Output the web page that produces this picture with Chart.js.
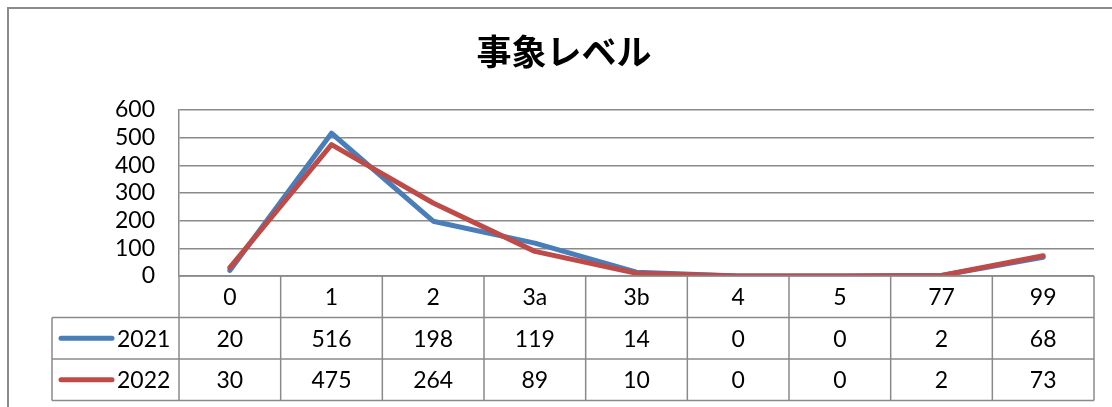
<!DOCTYPE html>
<html>
<head>
<meta charset="utf-8">
<script src="https://cdn.jsdelivr.net/npm/chart.js@4"></script>
<style>
  html, body { margin: 0; padding: 0; background: #ffffff; }
  #wrap { width: 1112px; height: 407px; position: relative; }
</style>
</head>
<body>
<div id="wrap"><canvas id="c" width="1112" height="407"></canvas></div>
<script>
const titleText = '事象レベル';
const categories = ['0', '1', '2', '3a', '3b', '4', '5', '77', '99'];
const seriesNames = ['2021', '2022'];
const values2021 = [20, 516, 198, 119, 14, 0, 0, 2, 68];
const values2022 = [30, 475, 264, 89, 10, 0, 0, 2, 73];
const yTicks = [0, 100, 200, 300, 400, 500, 600];

const colors = ['#4A7EBB', '#BE4B48'];
const gridColor = '#8a8a8a';
const fontFamily = 'Lato, "Liberation Sans", sans-serif';
const fontSize = 23;
const textFont = fontSize + 'px ' + fontFamily;

// Outer frame, title and the data table under the plot
const tablePlugin = {
  id: 'dataTable',
  afterDraw(chart) {
    const ctx = chart.ctx;
    const area = chart.chartArea;
    const x = chart.scales.x;
    const n = categories.length;
    const colW = (area.right - area.left) / n;
    const rowH = 41.5;
    const tableLeft = 52;
    const rows = [area.bottom, area.bottom + rowH, area.bottom + 2 * rowH, area.bottom + 3 * rowH];

    ctx.save();
    // frame
    ctx.strokeStyle = gridColor;
    ctx.lineWidth = 2;
    ctx.beginPath();
    ctx.moveTo(8, 420);
    ctx.lineTo(8, 8);
    ctx.lineTo(1120, 8);
    ctx.stroke();

    // title
    ctx.fillStyle = '#000';
    ctx.font = 'bold 35px "Noto Sans CJK JP", sans-serif';
    ctx.textAlign = 'center';
    ctx.textBaseline = 'middle';
    ctx.fillText(titleText, 564, 52);

    // table lines
    ctx.strokeStyle = gridColor;
    ctx.lineWidth = 1.5;
    ctx.beginPath();
    for (let r = 1; r < rows.length; r++) {
      ctx.moveTo(tableLeft, rows[r]);
      ctx.lineTo(area.right, rows[r]);
    }
    ctx.moveTo(area.left, rows[0]);
    ctx.lineTo(area.right, rows[0]);
    ctx.moveTo(tableLeft, rows[1]);
    ctx.lineTo(tableLeft, rows[3]);
    for (let i = 0; i <= n; i++) {
      const cx = area.left + i * colW;
      ctx.moveTo(cx, rows[0]);
      ctx.lineTo(cx, rows[3]);
    }
    ctx.stroke();

    // texts
    ctx.fillStyle = '#000';
    ctx.font = textFont;
    ctx.textAlign = 'center';
    ctx.textBaseline = 'middle';
    const series = [values2021, values2022];
    categories.forEach((c, i) => {
      const cx = x.getPixelForValue(i);
      ctx.fillText(c, cx, (rows[0] + rows[1]) / 2 + 1);
      series.forEach((s, k) => {
        ctx.fillText(String(s[i]), cx, (rows[k + 1] + rows[k + 2]) / 2 + 1);
      });
    });

    // legend keys
    seriesNames.forEach((name, k) => {
      const cy = (rows[k + 1] + rows[k + 2]) / 2;
      ctx.strokeStyle = colors[k];
      ctx.lineWidth = 5;
      ctx.lineCap = 'round';
      ctx.beginPath();
      ctx.moveTo(61, cy);
      ctx.lineTo(112, cy);
      ctx.stroke();
      ctx.fillStyle = '#000';
      ctx.textAlign = 'left';
      ctx.fillText(name, 117, cy + 1);
    });
    ctx.restore();
  }
};

new Chart(document.getElementById('c'), {
  type: 'line',
  data: {
    labels: categories,
    datasets: [
      { label: seriesNames[0], data: values2021, borderColor: colors[0], order: 1 },
      { label: seriesNames[1], data: values2022, borderColor: colors[1], order: 0 }
    ]
  },
  options: {
    responsive: false,
    animation: false,
    devicePixelRatio: 1,
    layout: { padding: { left: 0, right: 18, top: 110, bottom: 131 } },
    elements: {
      line: { borderWidth: 5, tension: 0, borderCapStyle: 'round', borderJoinStyle: 'round' },
      point: { radius: 0 }
    },
    plugins: {
      legend: { display: false },
      title: { display: false },
      tooltip: { enabled: false }
    },
    scales: {
      x: {
        type: 'category',
        offset: true,
        display: false
      },
      y: {
        min: 0,
        max: 600,
        afterBuildTicks(scale) { scale.ticks = yTicks.map(v => ({ value: v })); },
        afterFit(scale) { scale.width = 179; },
        grid: { color: gridColor, lineWidth: 1.5, drawTicks: false },
        border: { display: true, color: gridColor, width: 1.5 },
        ticks: {
          autoSkip: false,
          padding: 24,
          color: '#000',
          font: { family: fontFamily, size: fontSize }
        }
      }
    }
  },
  plugins: [tablePlugin]
});
</script>
</body>
</html>
